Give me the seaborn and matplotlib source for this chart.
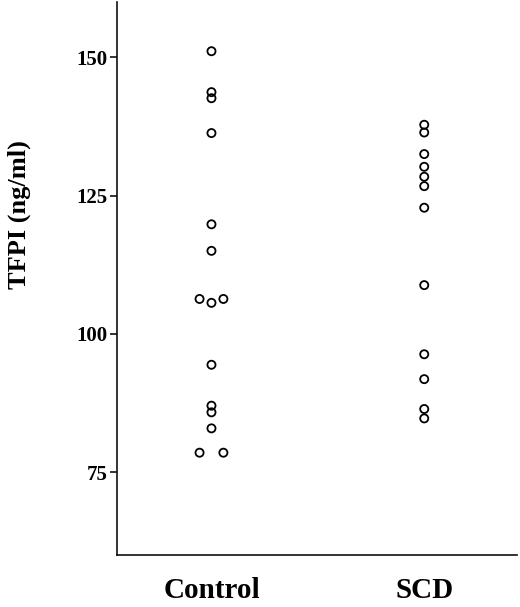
import numpy as np
import pandas as pd
import matplotlib
matplotlib.use("Agg")
import matplotlib.pyplot as plt
import seaborn as sns

categories = ["Control", "SCD"]
control_values = [151.1, 143.7, 142.6, 136.3, 119.8, 115.0, 106.3, 105.6, 106.3,
                  94.4, 87.0, 85.8, 82.9, 78.5, 78.5]
scd_values = [137.8, 136.4, 132.5, 130.2, 128.4, 126.7, 122.8, 108.8,
              96.3, 91.8, 86.4, 84.7]
y_ticks = [75, 100, 125, 150]
y_label = "TFPI (ng/ml)"

# horizontal slot for tied values (layout only)
control_slot = [0, 0, 0, 0, 0, 0, -1, 0, 1, 0, 0, 0, 0, -1, 1]
scd_slot = [0] * len(scd_values)
slot_width = 0.056

rows = []
for i, (cat, vals, slots) in enumerate(zip(categories,
                                           [control_values, scd_values],
                                           [control_slot, scd_slot])):
    for v, s in zip(vals, slots):
        rows.append({"group": cat, "x": i + s * slot_width, "value": v})
df = pd.DataFrame(rows)

sns.set_theme(style="ticks")
plt.rcParams["font.family"] = ["Liberation Serif", "DejaVu Serif"]
plt.rcParams["font.weight"] = "bold"
plt.rcParams["text.color"] = "black"
plt.rcParams["axes.labelcolor"] = "black"
plt.rcParams["xtick.color"] = "black"
plt.rcParams["ytick.color"] = "black"

fig = plt.figure(figsize=(5.2, 6.07), dpi=100)
ax = fig.add_axes([117 / 520, 1 - 555 / 607, 400 / 520, 553 / 607])

sns.scatterplot(data=df, x="x", y="value", ax=ax, marker="o", s=34,
                facecolor="none", edgecolor="black", linewidth=1.3,
                legend=False)

ax.set_xlim(-0.444, 1.436)
ax.set_ylim(60, 160)
ax.set_xticks(range(len(categories)))
ax.set_xticklabels(categories, fontsize=21, fontweight="bold", color="black")
ax.tick_params(axis="x", length=0, pad=16)
ax.set_yticks(y_ticks)
ax.set_yticklabels([str(t) for t in y_ticks], fontsize=15, fontweight="bold",
                   color="black")
ax.tick_params(axis="y", length=5, width=1.2, pad=2, color="#111111")
ax.set_xlabel("")
ax.set_ylabel(y_label, fontsize=19, fontweight="bold", color="black")
ax.yaxis.set_label_coords(-0.215, 0.615)

for side in ["top", "right"]:
    ax.spines[side].set_visible(False)
for side in ["left", "bottom"]:
    ax.spines[side].set_linewidth(1.2)
    ax.spines[side].set_color("#111111")

fig.savefig("out.png", dpi=100)
